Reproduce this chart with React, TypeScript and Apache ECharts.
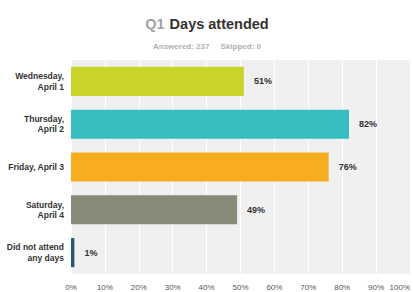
import React, { useEffect, useRef } from "react";
import * as echarts from "echarts";

const categories = [
  "Wednesday,\nApril 1",
  "Thursday,\nApril 2",
  "Friday, April 3",
  "Saturday,\nApril 4",
  "Did not attend\nany days",
];
const values = [51, 82, 76, 49, 1];
const barColors = ["#c9d42b", "#35bdbf", "#f6ad1f", "#898a7a", "#235b6b"];
const xTicks = [0, 10, 20, 30, 40, 50, 60, 70, 80, 90, 100];

export default function App() {
  const ref = useRef<HTMLDivElement>(null);
  useEffect(() => {
    if (!ref.current) return;
    const chart = echarts.init(ref.current, null, { renderer: "svg" });
    const font = "'Liberation Sans', Arial, sans-serif";
    chart.setOption({
      animation: false,
      title: [
        {
          text: "{a|Q1} {b|Days attended}",
          left: 202,
          top: 10,
          textAlign: "center",
          textStyle: {
            rich: {
              a: { fontSize: 14.5, fontWeight: "bold", color: "#a3a3a3", fontFamily: font },
              b: { fontSize: 14.5, fontWeight: "bold", color: "#333333", fontFamily: font },
            },
          },
        },
        {
          text: "Answered: 237     Skipped: 0",
          left: 202,
          top: 37,
          textAlign: "center",
          textStyle: { fontSize: 8, fontWeight: "bold", color: "#b0b0b0", fontFamily: font },
        },
      ],
      grid: {
        left: 71,
        right: 0,
        top: 60,
        bottom: 18,
        show: true,
        backgroundColor: "#f0f0f0",
        borderWidth: 0,
      },
      xAxis: {
        type: "value",
        min: 0,
        max: 100,
        interval: 10,
        axisLine: { show: false },
        axisTick: { show: false },
        splitLine: { show: true, lineStyle: { color: "#ffffff", width: 1 } },
        axisLabel: {
          margin: 9,
          fontSize: 8,
          color: "#555555",
          fontFamily: font,
          alignMaxLabel: "right",
          formatter: (v: number) => (xTicks.includes(v) ? v + "%" : ""),
        },
      },
      yAxis: {
        type: "category",
        data: categories,
        inverse: true,
        axisLine: { show: false },
        axisTick: { show: false },
        splitLine: { show: false },
        axisLabel: {
          margin: 7,
          fontSize: 8.5,
          fontWeight: "bold",
          color: "#333333",
          fontFamily: font,
          lineHeight: 10.5,
          align: "right",
        },
      },
      series: [
        {
          type: "bar",
          data: values.map((v, i) => ({
            value: v,
            itemStyle: { color: barColors[i] },
          })),
          barCategoryGap: "32%",
          label: {
            show: true,
            position: "right",
            distance: 10,
            formatter: "{c}%",
            fontSize: 9,
            fontWeight: "bold",
            color: "#333333",
            fontFamily: font,
          },
        },
      ],
    });
    return () => chart.dispose();
  }, []);
  return <div ref={ref} style={{ width: 413, height: 292, position: "absolute", left: 0, top: 0 }} />;
}
